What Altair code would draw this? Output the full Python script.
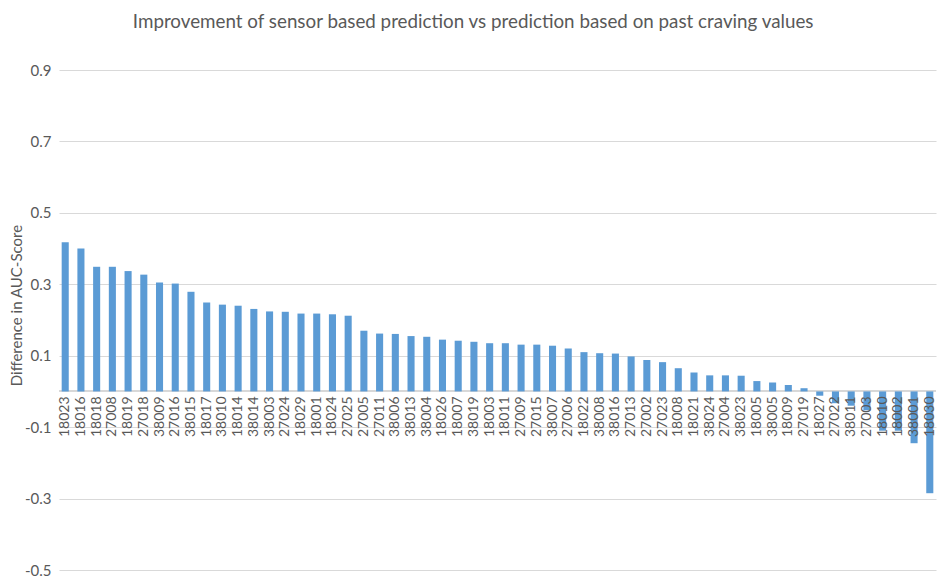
import altair as alt
import pandas as pd

ids = ["18023", "18016", "18018", "27008", "18019", "27018", "38009", "27016", "38015", "18017",
       "38010", "18014", "38014", "38003", "27024", "18029", "18001", "18024", "27025", "27005",
       "27011", "38006", "38013", "38004", "18026", "18007", "38019", "18003", "18011", "27009",
       "27015", "38007", "27006", "18022", "38008", "38016", "27013", "27002", "27023", "18008",
       "18021", "38024", "27004", "38023", "18005", "38005", "18009", "27019", "18027", "27022",
       "38011", "27003", "18010", "18002", "38001", "18030"]
values = [0.418, 0.400, 0.349, 0.349, 0.337, 0.327, 0.305, 0.302, 0.279, 0.249,
          0.243, 0.240, 0.231, 0.224, 0.223, 0.218, 0.218, 0.216, 0.212, 0.170,
          0.162, 0.161, 0.155, 0.153, 0.145, 0.142, 0.139, 0.135, 0.135, 0.131,
          0.131, 0.128, 0.120, 0.110, 0.107, 0.106, 0.098, 0.088, 0.082, 0.065,
          0.053, 0.045, 0.045, 0.044, 0.029, 0.025, 0.018, 0.009, -0.012, -0.033,
          -0.040, -0.053, -0.110, -0.110, -0.145, -0.285]
y_ticks = [-0.5, -0.3, -0.1, 0.1, 0.3, 0.5, 0.7, 0.9]

df = pd.DataFrame({"id": ids, "v": values})

FONT = "Lato"
GREY = "#595959"

xenc = alt.X("id:N", sort=None, axis=None,
             scale=alt.Scale(paddingInner=0.55, paddingOuter=0.17))
yscale = alt.Scale(domain=[-0.5, 0.9], nice=False, zero=False)

base = alt.Chart(df)

bars = base.mark_bar(color="#5B9BD5").encode(
    x=xenc,
    y=alt.Y("v:Q", scale=yscale,
            axis=alt.Axis(values=y_ticks, grid=True, gridColor="#D9D9D9", gridWidth=1,
                          domain=False, ticks=False,
                          labelExpr="datum.value < 0 ? '-' + format(-datum.value, '.1f') : format(datum.value, '.1f')",
                          labelFont=FONT, labelFontSize=15, labelColor=GREY, labelPadding=8,
                          title="Difference in AUC-Score", titleFont=FONT, titleFontSize=15,
                          titleColor=GREY, titleFontWeight="normal", titlePadding=0,
                          titleY=235)),
    y2=alt.datum(0),
)

zero_line = base.mark_rule(color="#D9D9D9", strokeWidth=1).encode(
    y=alt.datum(0),
)

labels = base.mark_text(angle=270, align="right", baseline="middle", dx=-5,
                        font=FONT, fontSize=14, color=GREY).encode(
    x=xenc,
    y=alt.datum(0, type="quantitative", scale=yscale),
    text="id:N",
)

chart = alt.layer(zero_line, bars, labels).properties(
    width=877,
    height=500,
    padding={"left": 1, "top": 5, "right": 0, "bottom": 0},
    title=alt.TitleParams(
        "Improvement of sensor based prediction vs prediction based on past craving values",
        font=FONT, fontSize=18.8, fontWeight="normal", color=GREY,
        anchor="middle", frame="bounds", offset=31),
).configure_view(stroke=None)

chart.save("out.html", embed_options={"renderer": "svg", "actions": False})
